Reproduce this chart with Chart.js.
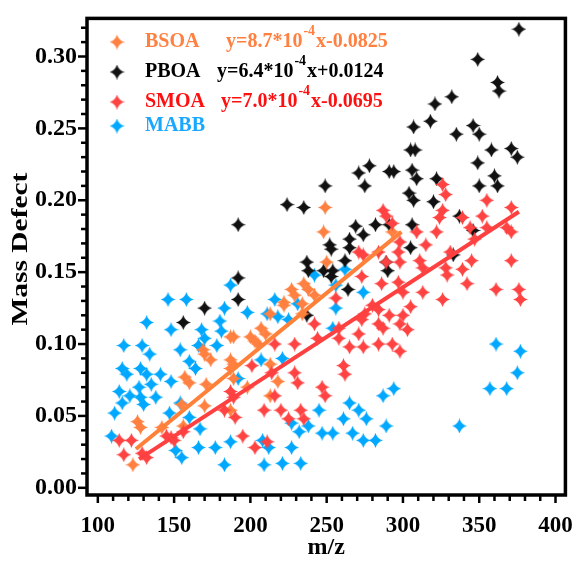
<!DOCTYPE html>
<html><head><meta charset="utf-8">
<script src="https://cdn.jsdelivr.net/npm/chart.js@4"></script>
<style>html,body{margin:0;padding:0;background:#fff}#wrap{width:584px;height:567px;position:relative}</style>
</head><body><div id="wrap"><canvas id="c"></canvas></div>
<script>
// ---- data ----
const seriesNames = ['BSOA', 'PBOA', 'SMOA', 'MABB'];
const equations = [
  ['y=8.7*10', '-4', 'x-0.0825'],
  ['y=6.4*10', '-4', 'x+0.0124'],
  ['y=7.0*10', '-4', 'x-0.0695'],
  null
];
const xTicks = [100, 150, 200, 250, 300, 350, 400];
const yTicks = [0.00, 0.05, 0.10, 0.15, 0.20, 0.25, 0.30];

const bsoaX = [249,248,250,293,235,238,242,227,229,222,222,234,213,234,207,200,203,189,210,187,169,170,174,187,157,160,171,187,155,170,126,128,142,156,123,205,213,218,198,213,189,189,187];
const bsoaY = [0.195,0.178,0.157,0.178,0.142,0.138,0.134,0.138,0.134,0.129,0.127,0.128,0.121,0.121,0.111,0.105,0.102,0.105,0.107,0.105,0.096,0.093,0.089,0.089,0.077,0.073,0.072,0.083,0.058,0.057,0.046,0.042,0.042,0.043,0.016,0.100,0.086,0.074,0.070,0.064,0.086,0.076,0.054];

const pboaX = [376,349,362,363,332,321,318,307,346,335,350,305,308,358,371,375,349,278,271,291,294,306,309,322,360,362,275,249,350,304,307,320,235,224,337,346,306,305,333,192,192,192,170,156,269,274,282,291,265,265,252,253,237,238,254,253,262,289,290,248,264,237];
const pboaY = [0.319,0.298,0.282,0.276,0.272,0.267,0.255,0.251,0.252,0.246,0.246,0.235,0.235,0.235,0.236,0.230,0.226,0.224,0.219,0.220,0.220,0.221,0.215,0.215,0.217,0.210,0.210,0.210,0.210,0.205,0.200,0.199,0.195,0.197,0.189,0.179,0.183,0.167,0.162,0.183,0.146,0.131,0.125,0.115,0.182,0.176,0.183,0.183,0.173,0.167,0.169,0.166,0.157,0.151,0.151,0.147,0.158,0.157,0.151,0.151,0.138,0.120];

const smoaX = [187,189,183,190,114,122,117,129,132,145,148,156,150,
  287,289,293,271,274,284,297,289,298,273,286,297,256,280,284,275,273,291,284,287,300,298,271,258,258,242,244,216,229,265,274,284,293,
  201,229,231,214,261,262,298,247,249,216,209,220,233,235,225,195,203,211,
  326,324,371,352,355,368,371,339,344,347,322,309,315,298,311,313,331,328,329,339,345,371,342,300,313,326,361,376,377,305,303,
  326,328,355];
const smoaY = [0.067,0.063,0.054,0.049,0.033,0.033,0.023,0.024,0.021,0.036,0.035,0.039,0.033,
  0.193,0.189,0.184,0.164,0.162,0.164,0.164,0.157,0.157,0.147,0.142,0.143,0.132,0.127,0.124,0.121,0.117,0.120,0.114,0.111,0.120,0.114,0.107,0.111,0.104,0.114,0.104,0.100,0.100,0.098,0.098,0.100,0.100,
  0.085,0.080,0.073,0.080,0.085,0.079,0.095,0.070,0.064,0.064,0.054,0.054,0.054,0.048,0.048,0.036,0.028,0.032,
  0.193,0.188,0.195,0.189,0.181,0.181,0.178,0.188,0.181,0.173,0.178,0.178,0.169,0.171,0.158,0.153,0.164,0.153,0.148,0.152,0.158,0.158,0.142,0.136,0.136,0.131,0.138,0.138,0.131,0.126,0.110,
  0.211,0.204,0.200];

const mabbX = [146,158,187,183,132,148,168,180,181,117,129,166,178,154,170,
  134,160,164,116,119,128,132,141,148,135,127,114,121,128,138,116,130,111,147,154,160,167,109,151,155,166,177,183,187,
  242,262,256,274,216,231,198,218,225,256,254,211,
  207,221,192,245,261,265,271,276,287,294,227,232,238,247,254,267,274,282,289,208,212,227,209,221,233,
  361,377,375,357,368,337];
const mabbY = [0.131,0.131,0.141,0.125,0.115,0.110,0.110,0.116,0.109,0.099,0.099,0.099,0.099,0.096,0.104,
  0.093,0.088,0.083,0.083,0.079,0.083,0.079,0.079,0.074,0.072,0.070,0.067,0.064,0.063,0.063,0.059,0.058,0.052,0.052,0.059,0.049,0.041,0.036,0.026,0.021,0.028,0.028,0.016,0.032,
  0.148,0.152,0.141,0.136,0.131,0.128,0.122,0.119,0.117,0.125,0.111,0.121,
  0.089,0.090,0.076,0.054,0.048,0.059,0.054,0.048,0.064,0.069,0.045,0.039,0.043,0.038,0.038,0.038,0.033,0.033,0.043,0.033,0.028,0.028,0.016,0.017,0.017,
  0.100,0.095,0.080,0.069,0.069,0.043];

const bsoaFitX = [125, 299];
const bsoaFitY = [0.027, 0.178];
const smoaFitX = [127, 376];
const smoaFitY = [0.020, 0.192];

// ---- styles ----
const FONT = '"Liberation Serif","Times New Roman",serif';
const markerColors = ['#FF8040', '#111111', '#FF4242', '#00A8FF'];
const textColors = ['#FF8040', '#000000', '#FF1010', '#1AA8FF'];
const lineColors = ['#FF8038', '#FF4040'];

function starImage(color, size) {
  const c = document.createElement('canvas');
  c.width = size; c.height = size;
  const g = c.getContext('2d');
  const h = size / 2, k = 0.22 * h;
  g.fillStyle = color;
  g.beginPath();
  g.moveTo(h, 0);
  g.quadraticCurveTo(h + k, h - k, size, h);
  g.quadraticCurveTo(h + k, h + k, h, size);
  g.quadraticCurveTo(h - k, h + k, 0, h);
  g.quadraticCurveTo(h - k, h - k, h, 0);
  g.closePath();
  g.fill();
  return c;
}
const stars = markerColors.map(c => starImage(c, 15));

function pts(xs, ys) { return xs.map((x, i) => ({x: x, y: ys[i]})); }

const framePlugin = {
  id: 'frame',
  afterDraw(chart) {
    const {ctx, chartArea: a, scales: {x, y}} = chart;
    ctx.save();
    ctx.strokeStyle = '#000';
    ctx.lineWidth = 2.5;
    for (let v = 100; v <= 400; v += 10) {
      const px = x.getPixelForValue(v);
      const major = v % 50 === 0;
      ctx.beginPath(); ctx.moveTo(px, a.bottom); ctx.lineTo(px, a.bottom + (major ? 8 : 6)); ctx.stroke();
    }
    for (let i = 0; i <= 32; i++) {
      const py = y.getPixelForValue(i / 100);
      const major = i % 5 === 0;
      ctx.beginPath(); ctx.moveTo(a.left, py); ctx.lineTo(a.left - (major ? 9 : 6), py); ctx.stroke();
    }
    ctx.lineWidth = 3.5;
    ctx.strokeRect(a.left, a.top, a.right - a.left, a.bottom - a.top);

    // axis titles
    ctx.fillStyle = '#000';
    ctx.textAlign = 'center';
    ctx.textBaseline = 'middle';
    ctx.font = 'bold 24px ' + FONT;
    ctx.fillText('m/z', (a.left + a.right) / 2, 548);
    ctx.save();
    ctx.translate(21, 249);
    ctx.rotate(-Math.PI / 2);
    ctx.scale(1.28, 1);
    ctx.font = 'bold 23px ' + FONT;
    ctx.fillText('Mass Defect', 0, 0);
    ctx.restore();

    // legend
    const rowsY = [42, 72, 102, 126];
    const eqX = [226, 217, 221];
    ctx.textAlign = 'left';
    seriesNames.forEach((name, i) => {
      const ry = rowsY[i];
      ctx.drawImage(stars[i], 117 - 7.5, ry - 7.5);
      ctx.fillStyle = textColors[i];
      ctx.font = 'bold 20px ' + FONT;
      ctx.textBaseline = 'middle';
      ctx.fillText(name, 145, ry);
      const eq = equations[i];
      if (eq) {
        let px = eqX[i];
        ctx.fillText(eq[0], px, ry);
        px += ctx.measureText(eq[0]).width;
        ctx.font = 'bold 14px ' + FONT;
        ctx.fillText(eq[1], px + 1, ry - 11);
        px += ctx.measureText(eq[1]).width + 2;
        ctx.font = 'bold 20px ' + FONT;
        ctx.fillText(eq[2], px, ry);
      }
    });
    ctx.restore();
  }
};

new Chart(document.getElementById('c'), {
  type: 'scatter',
  data: {
    datasets: [
      {type: 'line', label: 'BSOA fit', data: pts(bsoaFitX, bsoaFitY), borderColor: lineColors[0], borderWidth: 4, pointRadius: 0, showLine: true, fill: false, order: 0},
      {type: 'line', label: 'SMOA fit', data: pts(smoaFitX, smoaFitY), borderColor: lineColors[1], borderWidth: 4, pointRadius: 0, showLine: true, fill: false, order: 0},
      {label: seriesNames[2], data: pts(smoaX, smoaY), pointStyle: stars[2], pointRadius: 7, order: 1},
      {label: seriesNames[0], data: pts(bsoaX, bsoaY), pointStyle: stars[0], pointRadius: 7, order: 2},
      {label: seriesNames[1], data: pts(pboaX, pboaY), pointStyle: stars[1], pointRadius: 7, order: 3},
      {label: seriesNames[3], data: pts(mabbX, mabbY), pointStyle: stars[3], pointRadius: 7, order: 4}
    ]
  },
  options: {
    responsive: true,
    maintainAspectRatio: false,
    animation: false,
    layout: {padding: {top: 13.5, right: 12, left: 0, bottom: 0}},
    plugins: {legend: {display: false}, tooltip: {enabled: false}},
    scales: {
      x: {
        type: 'linear', min: 92.9, max: 406.5,
        afterBuildTicks: s => { s.ticks = xTicks.map(v => ({value: v})); },
        afterFit: s => { s.height = 72; },
        grid: {display: false, drawTicks: true, tickLength: 6},
        border: {display: false},
        ticks: {font: {family: FONT, weight: 'bold', size: 23}, color: '#000', padding: 11, maxRotation: 0, callback: v => String(v)}
      },
      y: {
        type: 'linear', min: -0.005, max: 0.3265,
        afterBuildTicks: s => { s.ticks = yTicks.map(v => ({value: v})); },
        afterFit: s => { s.width = 87; },
        grid: {display: false, drawTicks: true, tickLength: 6},
        border: {display: false},
        ticks: {font: {family: FONT, weight: 'bold', size: 24}, color: '#000', padding: 4, callback: v => Number(v).toFixed(2)}
      }
    }
  },
  plugins: [framePlugin]
});
</script>
</body></html>
